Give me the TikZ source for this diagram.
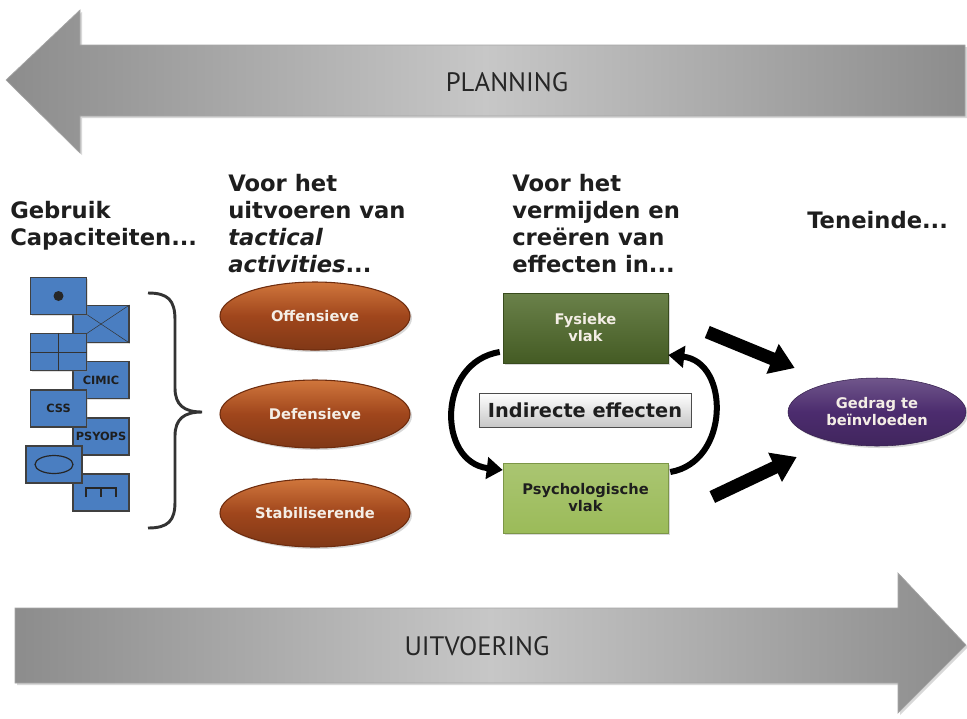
\documentclass[tikz,border=0pt]{standalone}
\usepackage{fontspec}
\setmainfont{DejaVu Sans}
\newfontfamily\arrowfont{PT Sans}
\usetikzlibrary{shapes.geometric,arrows.meta,calc,shadows}

\definecolor{capblue}{RGB}{74,126,193}
\definecolor{rust}{RGB}{160,70,28}
\definecolor{rustlight}{RGB}{208,118,60}
\definecolor{rustdark}{RGB}{110,44,14}
\definecolor{fysgreen}{RGB}{80,107,42}
\definecolor{psygreen}{RGB}{155,187,89}
\definecolor{gedpurple}{RGB}{76,44,110}
\definecolor{txtdark}{RGB}{30,30,30}
\definecolor{cream}{RGB}{244,238,230}

\tikzset{
  capbox/.style={draw=black!75,line width=0.8pt,fill=capblue,minimum width=42pt,minimum height=27.75pt,
    inner sep=0pt,font=\bfseries\fontsize{8.5}{10}\selectfont,text=txtdark,
    drop shadow={opacity=0.25,shadow xshift=1pt,shadow yshift=-1pt}},
  taskoval/.style={ellipse,draw=rustdark,line width=0.8pt,top color=rustlight,bottom color=rust!80!black,
    middle color=rust,minimum width=142.5pt,minimum height=51pt,inner sep=0pt,
    font=\bfseries\fontsize{11}{13}\selectfont,text=cream,
    drop shadow={opacity=0.3,shadow xshift=1.5pt,shadow yshift=-1.5pt}},
  vlakbox/.style={minimum width=123.75pt,minimum height=52.5pt,inner sep=0pt,align=center,
    font=\bfseries\fontsize{11}{12.75}\selectfont,
    drop shadow={opacity=0.3,shadow xshift=1.5pt,shadow yshift=-1.5pt}},
  kop/.style={anchor=base west,inner sep=0pt,align=left,text=txtdark,
    font=\bfseries\fontsize{17}{20.25}\selectfont},
  bigarrow/.style={line width=9.75pt,-{Triangle[length=18pt,width=23pt]}},
  loop arrow/.style={line width=4.5pt,-{Triangle[length=12pt,width=16pt]}},
  baan/.style={left color=black!45,right color=black!45,middle color=black!22,draw=black!35,line width=0.5pt,
    drop shadow={opacity=0.3,shadow xshift=1.5pt,shadow yshift=-1.5pt}},
  baantekst/.style={font=\arrowfont\fontsize{20}{24}\selectfont,text=black!85}
}

\begin{document}
\begin{tikzpicture}[x=0.75pt,y=-0.75pt]
  \useasboundingbox (0,0) rectangle (967,718);
  \fill[white] (0,0) rectangle (967,718);

  % planning en uitvoering
  \path[baan] (6,80) -- (80,10) -- (80,45) -- (965,45) -- (965,116) -- (80,116) -- (80,153) -- cycle;
  \node[baantekst] (plan) at (507,82) {PLANNING};
  \path[baan] (15,608) -- (898,608) -- (898,573) -- (966,645) -- (898,713) -- (898,683) -- (15,683) -- cycle;
  \node[baantekst] (uitv) at (477,646) {UITVOERING};

  % kopjes (anker op de laatste regel)
  \node[kop] (kop1) at (10,245) {Gebruik\\Capaciteiten...};
  \node[kop] (kop2) at (228,272) {Voor het\\uitvoeren van\\\textit{tactical}\\\textit{activities}...};
  \node[kop] (kop3) at (512,272) {Voor het\\vermijden en\\creëren van\\effecten in...};
  \node[kop] (kop4) at (807,228) {Teneinde...};

  % capaciteiten
  \node[capbox] (cap2) at (101,324) {};
  \draw[black!80] (cap2.north west) -- (cap2.south east) (cap2.south west) -- (cap2.north east);
  \node[capbox] (cap4) at (101,380) {CIMIC};
  \node[capbox] (cap6) at (101,436.5) {PSYOPS};
  \node[capbox] (cap8) at (101,492.5) {};
  \draw[black!85,line width=1.2pt] ($(cap8)+(-15,4.5)$) -- ++(0,-9) -- ++(30,0) -- ++(0,9)
    ($(cap8)+(0,-4.5)$) -- ++(0,9);
  \node[capbox] (cap1) at (58.5,296) {};
  \fill[black!85] (cap1) circle[radius=3.75pt];
  \node[capbox] (cap3) at (58.5,352) {};
  \draw[black!80] (cap3.north) -- (cap3.south) (cap3.west) -- (cap3.east);
  \node[capbox] (cap5) at (58.5,408.5) {CSS};
  \node[capbox] (cap7) at (54,464.5) {};
  \draw[black!85,line width=0.9pt] (cap7) ellipse[x radius=14.25pt,y radius=6.75pt];

  % accolade
  \draw[black!80,line width=2.2pt] (148,293) .. controls (168,293) and (175,300) .. (175,320) -- (175,388)
    .. controls (175,405) and (184,412) .. (202,412) .. controls (184,412) and (175,419) .. (175,436)
    -- (175,502) .. controls (175,521) and (168,528) .. (148,528);

  % activiteiten
  \node[taskoval] (off) at (315,316) {Offensieve};
  \node[taskoval] (def) at (315,414) {Defensieve};
  \node[taskoval] (stab) at (315,513) {Stabiliserende};

  % vlakken
  \node[vlakbox,top color=fysgreen!85!white,bottom color=fysgreen!85!black,draw=fysgreen!70!black,text=cream] (fys) at (585.5,328) {Fysieke\\vlak};
  \node[vlakbox,top color=psygreen!85!white,bottom color=psygreen,draw=psygreen!80!black,text=txtdark] (psy) at (585.5,498) {Psychologische\\vlak};
  \node[draw=black!70,top color=white,bottom color=black!22,minimum width=159pt,minimum height=25.5pt,inner sep=0pt,
    font=\bfseries\fontsize{14.5}{17}\selectfont,text=txtdark] (ind) at (585,410) {Indirecte effecten};

  \draw[loop arrow] ($(fys.west)+(-3,24)$) .. controls (437,362) and (437,462) .. ($(psy.west)+(0,-28)$);
  \draw[loop arrow] ($(psy.east)+(2,-26)$) .. controls (730,462) and (730,362) .. ($(fys.east)+(0,27)$);

  % doel
  \node[ellipse,draw=gedpurple!70!black,top color=gedpurple!80!white,bottom color=gedpurple!85!black,middle color=gedpurple,
    minimum width=133.5pt,minimum height=51pt,inner sep=0pt,align=center,text=cream,
    font=\bfseries\fontsize{11}{12.75}\selectfont,
    drop shadow={opacity=0.3,shadow xshift=1.5pt,shadow yshift=-1.5pt}] (ged) at (877,412) {Gedrag te\\beïnvloeden};

  \draw[bigarrow] ($(fys.east)+(39,4)$) -- ($(ged.west)+(7,-44)$);
  \draw[bigarrow] ($(psy.east)+(44,-1)$) -- ($(ged.west)+(9,45)$);
\end{tikzpicture}
\end{document}
